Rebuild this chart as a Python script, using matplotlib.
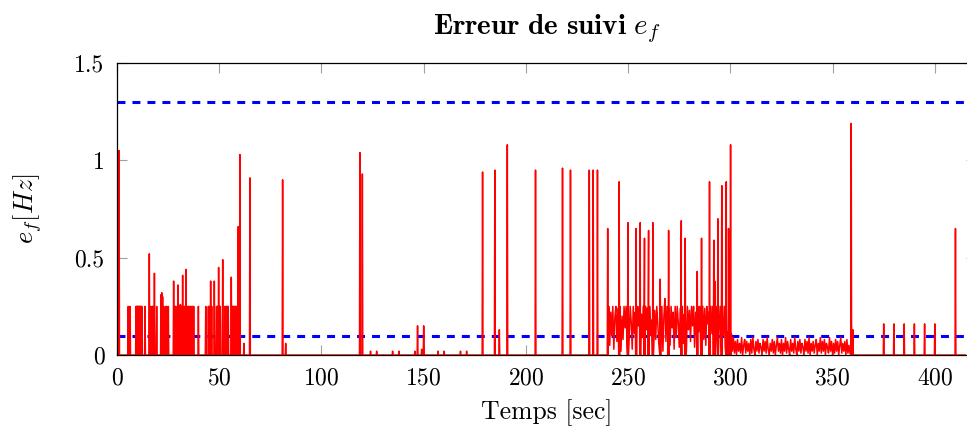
import numpy as np
import matplotlib
matplotlib.use("Agg")
import matplotlib.pyplot as plt

plt.rcParams["font.family"] = "serif"
plt.rcParams["font.serif"] = ["cmr10"]
plt.rcParams["mathtext.fontset"] = "cm"
plt.rcParams["axes.formatter.use_mathtext"] = True

# isolated spikes of the tracking error: time [s], peak value [Hz]
spike_t = [1.0, 5.5, 6.4, 9.3, 9.6, 9.9, 10.2, 10.5, 10.8, 11.1, 11.4, 11.7, 12.1,
           13.7, 15.8, 16.5, 16.9, 17.2, 17.5, 18.3, 19.4, 21.5, 21.9, 22.3, 22.8,
           23.8, 24.2, 24.6, 25.1, 27.7, 28.5, 28.8, 29.1, 29.8, 30.6, 31.0, 31.3,
           31.6, 32.1, 33.0, 33.4, 33.7, 34.6, 35.0, 35.6, 36.2, 36.8, 37.5, 39.8,
           43.4, 44.7, 45.2, 45.8, 46.3, 47.6, 48.7, 49.2, 49.7, 50.1, 50.5, 51.7,
           52.8, 53.3, 53.8, 54.4, 55.9, 56.4, 56.8, 57.2, 57.6, 58.0, 58.5, 59.3,
           60.1, 62.1, 65.0, 81.0, 82.5, 118.8, 120.0, 124.0, 127.0, 134.8, 137.9,
           145.7, 147.0, 149.0, 150.0, 157.0, 160.0, 168.0, 171.0, 178.8, 184.8,
           187.0, 190.9, 204.7, 217.9, 221.8, 231.0, 232.9, 235.0, 240.0, 245.6,
           249.9, 253.9, 255.9, 258.0, 260.0, 262.1, 265.7, 269.8, 276.0, 277.9,
           283.8, 285.9, 289.8, 291.9, 292.4, 293.9, 295.8, 298.0, 299.1, 300.1,
           359.1, 359.9, 375.0, 380.0, 385.0, 390.0, 395.0, 400.0, 410.1]
spike_v = [1.05, 0.25, 0.25, 0.25, 0.25, 0.25, 0.25, 0.25, 0.25, 0.25, 0.25, 0.25, 0.25,
           0.25, 0.52, 0.25, 0.24, 0.25, 0.25, 0.42, 0.25, 0.31, 0.32, 0.30, 0.25,
           0.25, 0.25, 0.24, 0.25, 0.38, 0.25, 0.25, 0.24, 0.36, 0.25, 0.26, 0.22,
           0.25, 0.41, 0.25, 0.25, 0.44, 0.25, 0.25, 0.25, 0.25, 0.25, 0.25, 0.25,
           0.25, 0.25, 0.25, 0.38, 0.25, 0.38, 0.25, 0.25, 0.45, 0.25, 0.25, 0.49,
           0.25, 0.25, 0.25, 0.25, 0.40, 0.25, 0.25, 0.25, 0.25, 0.25, 0.25, 0.66,
           1.03, 0.06, 0.91, 0.90, 0.06, 1.04, 0.93, 0.02, 0.02, 0.02, 0.02,
           0.02, 0.15, 0.03, 0.15, 0.02, 0.02, 0.02, 0.02, 0.94, 0.95,
           0.13, 1.08, 0.95, 0.96, 0.95, 0.95, 0.95, 0.95, 0.65, 0.89,
           0.68, 0.65, 0.68, 0.60, 0.64, 0.68, 0.39, 0.64, 0.69, 0.60,
           0.43, 0.60, 0.89, 0.59, 0.38, 0.70, 0.87, 0.89, 0.65, 1.08,
           1.19, 0.13, 0.16, 0.16, 0.16, 0.16, 0.16, 0.16, 0.65]

# dense noisy band between 240.5 s and 299.5 s (one value every 0.5 s)
band_hi_start = 240.5
band_hi = [0.25, 0.05, 0.22, 0.10, 0.25, 0.03, 0.19, 0.25, 0.07, 0.24,
           0.12, 0.25, 0.02, 0.20, 0.08, 0.25, 0.14, 0.25, 0.04, 0.23,
           0.09, 0.25, 0.17, 0.03, 0.25, 0.11, 0.22, 0.06, 0.25, 0.15,
           0.25, 0.02, 0.21, 0.09, 0.25, 0.05, 0.25, 0.13, 0.24, 0.04,
           0.25, 0.10, 0.18, 0.25, 0.03, 0.23, 0.08, 0.25, 0.16, 0.06,
           0.25, 0.12, 0.25, 0.02, 0.20, 0.29, 0.07, 0.25, 0.11, 0.24,
           0.05, 0.25, 0.14, 0.22, 0.03, 0.25, 0.09, 0.25, 0.17, 0.04,
           0.24, 0.10, 0.25, 0.06, 0.21, 0.25, 0.02, 0.25, 0.13, 0.23,
           0.07, 0.25, 0.15, 0.25, 0.04, 0.22, 0.09, 0.25, 0.12, 0.25,
           0.03, 0.20, 0.25, 0.08, 0.24, 0.05, 0.25, 0.16, 0.22, 0.06,
           0.25, 0.11, 0.25, 0.03, 0.19, 0.25, 0.08, 0.24, 0.13, 0.25,
           0.05, 0.21, 0.10, 0.25, 0.04, 0.23, 0.12, 0.25, 0.07]

# low residual noise between 300.5 s and 358.5 s (one value every 0.5 s)
band_lo_start = 300.5
band_lo = [0.11, 0.02, 0.09, 0.01, 0.07, 0.00, 0.08, 0.02, 0.06, 0.01,
           0.09, 0.00, 0.05, 0.08, 0.01, 0.07, 0.02, 0.06, 0.00, 0.08,
           0.01, 0.09, 0.03, 0.00, 0.07, 0.02, 0.08, 0.01, 0.06, 0.04,
           0.00, 0.08, 0.02, 0.07, 0.01, 0.09, 0.03, 0.00, 0.06, 0.02,
           0.08, 0.01, 0.07, 0.00, 0.05, 0.09, 0.02, 0.06, 0.01, 0.08,
           0.00, 0.06, 0.02, 0.09, 0.01, 0.07, 0.03, 0.00, 0.08, 0.02,
           0.06, 0.01, 0.09, 0.03, 0.00, 0.07, 0.02, 0.08, 0.01, 0.06,
           0.04, 0.00, 0.08, 0.02, 0.07, 0.01, 0.09, 0.00, 0.06, 0.02,
           0.07, 0.01, 0.05, 0.08, 0.00, 0.06, 0.02, 0.09, 0.01, 0.07,
           0.02, 0.08, 0.00, 0.06, 0.04, 0.01, 0.09, 0.02, 0.07, 0.00,
           0.06, 0.01, 0.08, 0.02, 0.07, 0.00, 0.05, 0.09, 0.01, 0.06,
           0.02, 0.07, 0.00, 0.08, 0.01, 0.05, 0.01]

t_end = 415.0
thresholds = [1.3, 0.1]
x_ticks = [0, 50, 100, 150, 200, 250, 300, 350, 400]
y_ticks = [0, 0.5, 1, 1.5]
y_ticklabels = ["0", "0.5", "1", "1.5"]

# assemble the time series: each spike rises from the zero baseline and falls back
hw = 0.2
pts = [(0.0, 0.0), (t_end, 0.0)]
for t, v in zip(spike_t, spike_v):
    pts += [(t - hw, 0.0), (t, v), (t + hw, 0.0)]
for i, v in enumerate(band_hi):
    pts.append((band_hi_start + 0.5 * i, v))
for i, v in enumerate(band_lo):
    pts.append((band_lo_start + 0.5 * i, v))
pts.sort(key=lambda p: p[0])
time = np.array([p[0] for p in pts])
err = np.array([p[1] for p in pts])

fig = plt.figure(figsize=(9.67, 4.33), dpi=100)
ax = fig.add_axes([0.121, 0.180, 0.888, 0.6745])

for h in thresholds:
    ax.axhline(h, color="blue", lw=2.2, dashes=(2.6, 2.3))
ax.plot(time, err, color="red", lw=1.1)

ax.set_xlim(0, 420)
ax.set_ylim(0, 1.5)
ax.set_xticks(x_ticks)
ax.set_yticks(y_ticks)
ax.set_yticklabels(y_ticklabels)
ax.tick_params(direction="in", length=7.5, width=0.8, color="#a0a0a0",
               top=True, right=True, labelsize=17, pad=9)
for s in ax.spines.values():
    s.set_linewidth(0.9)

ax.set_title(r"$\mathbf{Erreur\ de\ suivi}\ e_f$", fontsize=21, pad=21)
ax.set_xlabel("Temps [sec]", fontsize=18.5, labelpad=7)
ax.set_ylabel(r"$e_f[Hz]$", fontsize=19, labelpad=22)

fig.savefig("out.png", dpi=100)
